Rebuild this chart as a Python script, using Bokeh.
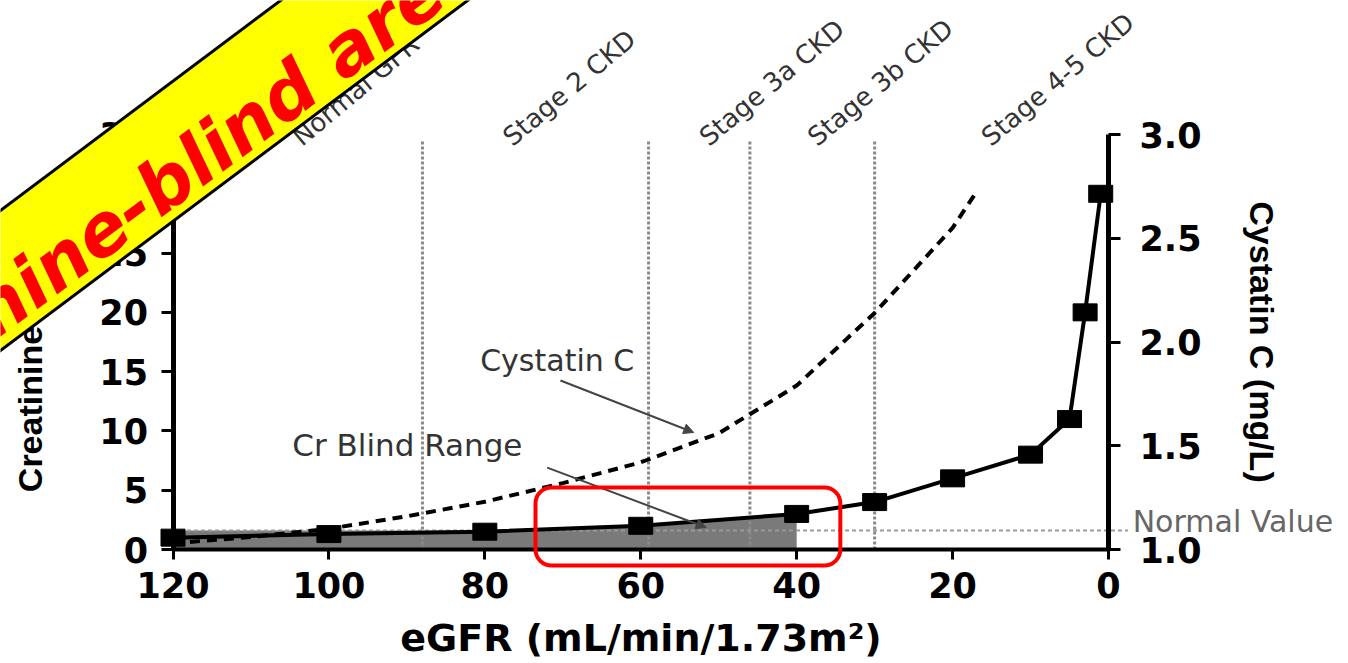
import numpy as np
from bokeh.plotting import figure
from bokeh.models import (Range1d, LinearAxis, Label, Arrow, NormalHead, BoxAnnotation,
                          PolyAnnotation, ColumnDataSource, FixedTicker)
from bokeh.embed import file_html
from bokeh.resources import INLINE

# ---------------- data ----------------
egfr_cr = [120, 100, 80, 60, 40, 30, 20, 10, 5, 3, 1]
creatinine = [1.0, 1.3, 1.5, 2.0, 3.0, 4.0, 6.0, 8.0, 11.0, 20.0, 30.0]

egfr_cys = [120, 110, 100, 90, 80, 70, 60, 50, 40, 30, 20, 17]
cystatin = [1.03, 1.06, 1.10, 1.16, 1.23, 1.32, 1.42, 1.56, 1.79, 2.14, 2.55, 2.72]

stage_bounds = [88, 59, 46, 30]
stage_labels = ["Normal GFR", "Stage 2 CKD", "Stage 3a CKD", "Stage 3b CKD", "Stage 4-5 CKD"]
normal_value = 1.6          # creatinine axis units
blind_start, blind_end = 120, 40

x_ticks = [120, 100, 80, 60, 40, 20, 0]
y_left_ticks = [0, 5, 10, 15, 20, 25, 30, 35]
y_right_ticks = [1.0, 1.5, 2.0, 2.5, 3.0]

X_MIN, X_MAX = 0, 120
YL_MIN, YL_MAX = 0, 35
YR_MIN, YR_MAX = 1.0, 3.0

# ---------------- layout geometry (pixels inside the canvas) ----------------
W, H = 1348, 663
AX_L, AX_R = 172.5, 1108.0     # pixel x of eGFR 120 and eGFR 0
AX_T, AX_B = 134.0, 549.0      # pixel y of top / bottom of value axes

xs_per_px = (X_MAX - X_MIN) / (AX_R - AX_L)
x_start = X_MAX + AX_L * xs_per_px
x_end = X_MIN - (W - AX_R) * xs_per_px
yl_per_px = (YL_MAX - YL_MIN) / (AX_B - AX_T)
yr_per_px = (YR_MAX - YR_MIN) / (AX_B - AX_T)

p = figure(width=W, height=H,
           x_range=Range1d(x_start, x_end),
           y_range=Range1d(YL_MIN - (H - AX_B) * yl_per_px, YL_MAX + AX_T * yl_per_px),
           output_backend="svg", toolbar_location=None)
p.min_border = 0
p.min_border_left = 0
p.min_border_right = 0
p.min_border_top = 0
p.min_border_bottom = 0
p.extra_y_ranges = {"cys": Range1d(YR_MIN - (H - AX_B) * yr_per_px, YR_MAX + AX_T * yr_per_px)}
p.outline_line_color = None
p.xgrid.visible = False
p.ygrid.visible = False
p.background_fill_color = "white"
p.border_fill_color = "white"

right_axis = LinearAxis(y_range_name="cys")
p.add_layout(right_axis, "right")

def style_axis(ax, tick_out, standoff, label_standoff):
    ax.axis_line_color = "black"
    ax.major_tick_line_color = "black"
    ax.major_tick_line_width = 3
    ax.major_tick_out = tick_out
    ax.major_tick_in = 0
    ax.minor_tick_out = 0
    ax.minor_tick_in = 0
    ax.major_label_text_font = "DejaVu Sans"
    ax.major_label_text_font_style = "bold"
    ax.major_label_text_font_size = "35px"
    ax.major_label_text_color = "black"
    ax.major_label_standoff = standoff
    ax.axis_label_standoff = label_standoff
    ax.axis_label_text_color = "black"

xa = p.xaxis[0]
style_axis(xa, 10, 12, 15)
xa.axis_line_width = 4
xa.ticker = FixedTicker(ticks=x_ticks)
xa.fixed_location = YL_MIN
xa.bounds = (X_MIN, X_MAX)
xa.axis_label = "eGFR (mL/min/1.73m²)"
xa.axis_label_text_font = "DejaVu Sans"
xa.axis_label_text_font_style = "bold"
xa.axis_label_text_font_size = "38px"

ya = p.yaxis[0]
style_axis(ya, 12, 13, 48)
ya.axis_line_width = 5
ya.ticker = FixedTicker(ticks=y_left_ticks)
ya.fixed_location = X_MAX
ya.bounds = (YL_MIN, YL_MAX)
ya.axis_label = "Creatinine (mg/dL)"
ya.axis_label_text_font = "Liberation Sans"
ya.axis_label_text_font_style = "bold"
ya.axis_label_text_font_size = "34px"

style_axis(right_axis, 12, 19, 38)
right_axis.axis_line_width = 5
right_axis.ticker = FixedTicker(ticks=y_right_ticks)
right_axis.fixed_location = X_MIN
right_axis.bounds = (YR_MIN, YR_MAX)
right_axis.major_label_overrides = {t: f"{t:.1f}" for t in y_right_ticks}
right_axis.axis_label = "Cystatin C (mg/L)"
right_axis.axis_label_text_font = "Liberation Sans"
right_axis.axis_label_text_font_style = "bold"
right_axis.axis_label_text_font_size = "34px"

# ---------------- creatinine blind range fill ----------------
ex = np.array(egfr_cr, dtype=float)
cr = np.array(creatinine, dtype=float)
mask = (ex <= blind_start) & (ex >= blind_end)
blind_src = ColumnDataSource(dict(x=ex[mask], top=np.maximum(cr[mask], normal_value),
                                  bottom=np.zeros(mask.sum())))
p.varea(x="x", y1="bottom", y2="top", source=blind_src, fill_color="#7a7a7a", fill_alpha=1.0)

# normal value line (runs a little past the right axis)
p.segment(x0=[X_MAX], y0=[normal_value], x1=[X_MIN - 2.5], y1=[normal_value],
          line_color="#9a9a9a", line_width=2, line_dash="4 3")

# stage boundary lines
p.segment(x0=stage_bounds, y0=[YL_MIN] * len(stage_bounds), x1=stage_bounds,
          y1=[34.5] * len(stage_bounds), line_color="#8a8a8a", line_width=3, line_dash="3 2")

# cystatin C dashed curve (right axis)
p.line(egfr_cys, cystatin, y_range_name="cys", line_color="black", line_width=4,
       line_dash="10 7")

# creatinine curve with square markers
p.line(egfr_cr, creatinine, line_color="black", line_width=4)
p.rect(egfr_cr, creatinine, width=24, height=17, width_units="screen", height_units="screen",
       fill_color="black", line_color="black")

# ---------------- annotations ----------------
stage_x = [104.2, 77.2, 52.0, 38.1, 15.8]
for sx, txt in zip(stage_x, stage_labels):
    p.add_layout(Label(x=sx, y=34.5, text=txt, angle=40, angle_units="deg",
                       text_align="left", text_baseline="middle", text_font="DejaVu Sans",
                       text_font_size="26px", text_color="#333333"))

p.add_layout(Label(x=80.6, y=15.9, text="Cystatin C", text_align="left", text_baseline="middle",
                   text_font="DejaVu Sans", text_font_size="30px", text_color="#333333"))
p.add_layout(Label(x=104.7, y=8.8, text="Cr Blind Range", text_align="left", text_baseline="middle",
                   text_font="DejaVu Sans", text_font_size="31px", text_color="#333333"))
p.add_layout(Label(x=-3.1, y=2.36, text="Normal Value", text_align="left", text_baseline="middle",
                   text_font="DejaVu Sans", text_font_size="30px", text_color="#666666"))

p.add_layout(Arrow(end=NormalHead(size=10, fill_color="#444444", line_color="#444444"),
                   x_start=70.3, y_start=14.25, x_end=53.2, y_end=9.87,
                   line_color="#444444", line_width=2))
p.add_layout(Arrow(end=NormalHead(size=10, fill_color="#444444", line_color="#444444"),
                   x_start=72.0, y_start=6.9, x_end=51.6, y_end=1.86,
                   line_color="#444444", line_width=2))

# red highlight box
p.add_layout(BoxAnnotation(left=73.5, right=34.4, bottom=-1.35, top=5.23, fill_alpha=0,
                           line_color="#ff0000", line_alpha=1.0, line_width=4,
                           border_radius=16, level="overlay"))

# diagonal banner
p.add_layout(PolyAnnotation(xs=[149.8, 98.5, 74.5, 149.8], ys=[24.8, 50.1, 50.1, 13.0],
                            fill_color="#ffff00", fill_alpha=1.0, line_color="black",
                            line_alpha=1.0, line_width=3, level="overlay"))
p.add_layout(Label(x=125.7, y=28.6, text="Creatinine-blind area", angle=36.5, angle_units="deg",
                   text_align="center", text_baseline="middle", text_font="DejaVu Sans",
                   text_font_style="bold italic", text_font_size="72px", text_color="#ff0000",
                   level="overlay"))

open("out.html", "w").write(file_html(p, INLINE))
